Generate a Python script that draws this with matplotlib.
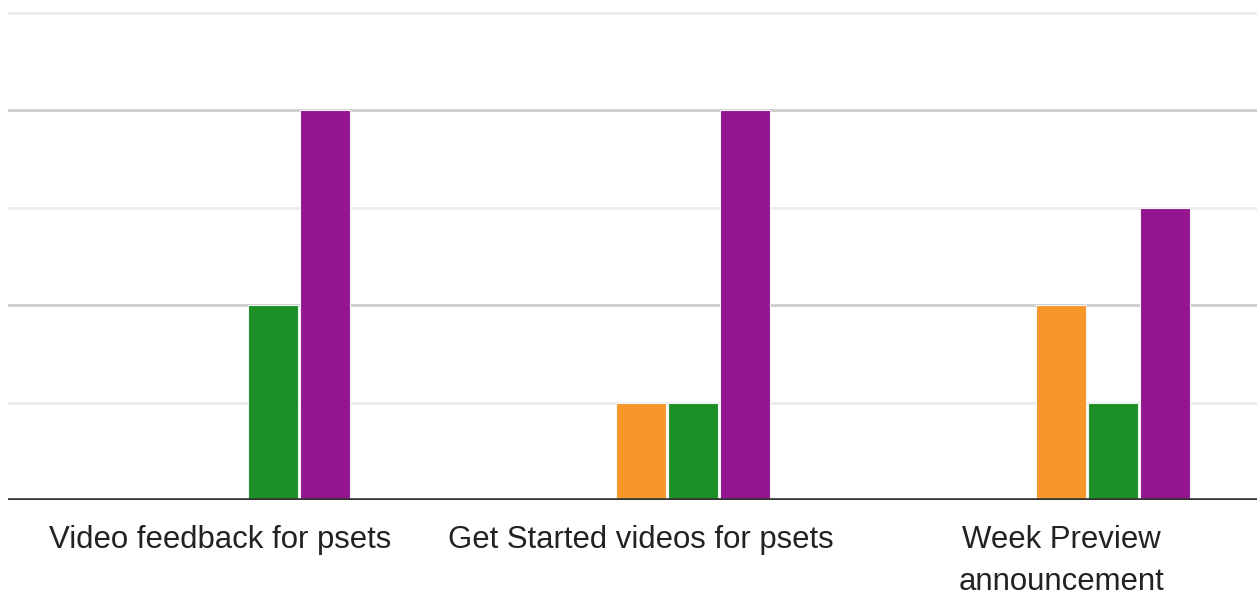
import numpy as np
import matplotlib.pyplot as plt

# Grouped bar chart of responses per course resource
categories = ["Video feedback for psets", "Get Started videos for psets", "Week Preview\nannouncement"]
series_names = ["Not useful", "Slightly useful", "Moderately useful", "Very useful", "Extremely useful"]
counts_not = [0, 0, 0]
counts_slightly = [0, 0, 0]
counts_moderately = [0, 1, 2]
counts_very = [2, 1, 1]
counts_extremely = [4, 4, 3]
colors = ["#3366cc", "#dc3912", "#f7972a", "#1c9027", "#941590"]

plt.rcParams["font.family"] = ["Liberation Sans", "DejaVu Sans"]

fig = plt.figure(figsize=(12.57, 5.95), dpi=100)
ax = fig.add_axes([8 / 1257, 95 / 595, 1 - 8 / 1257, 500 / 595])

x = np.arange(len(categories))
step = 52 / 420.5
width = 50 / 420.5
all_series = [counts_not, counts_slightly, counts_moderately, counts_very, counts_extremely]
for i, (vals, col) in enumerate(zip(all_series, colors)):
    offs = (i - 2) * step
    ax.bar(x + offs, vals, width=width, color=col, edgecolor="#f4f4f4",
           linewidth=0.8, zorder=3, label=series_names[i])

# grid lines: darker on even values, lighter on odd
for v in [1, 3, 5]:
    ax.axhline(v, color="#ebebeb", linewidth=2, zorder=1)
for v in [2, 4]:
    ax.axhline(v, color="#cccccc", linewidth=2, zorder=1)
ax.axhline(0, color="#333333", linewidth=2.6, zorder=4)

ax.set_xlim(-0.5054, 2.465)
ax.set_ylim(0, 5.13)
ax.set_yticks([])
ax.set_xticks(x)
ax.set_xticklabels(categories, fontsize=22.4, color="#222222", linespacing=1.5)
ax.tick_params(axis="x", length=0, pad=18)
for s in ax.spines.values():
    s.set_visible(False)

fig.savefig("out.png", dpi=100)
